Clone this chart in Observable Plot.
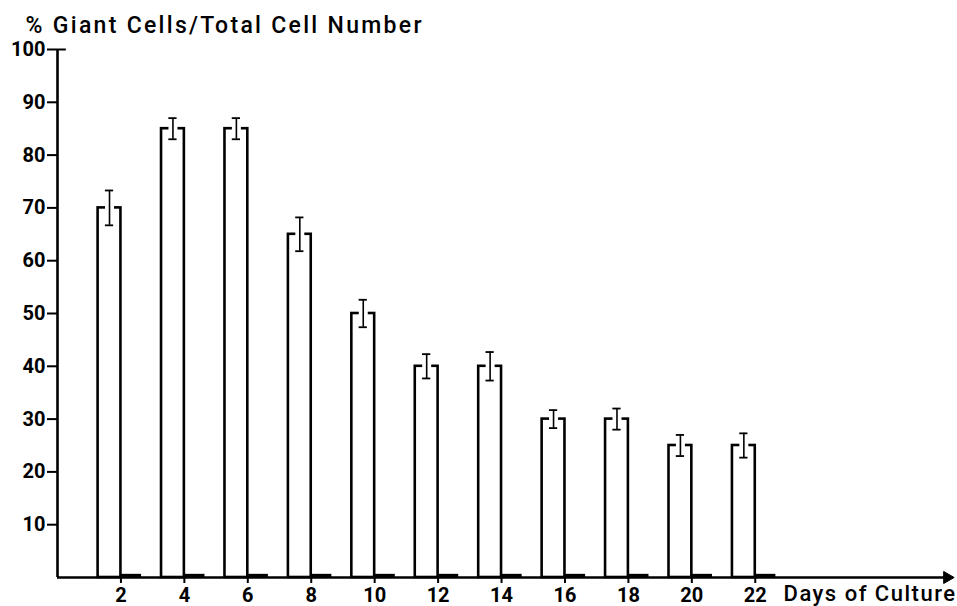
<!DOCTYPE html>
<html>
<head>
<meta charset="utf-8">
<script src="https://cdn.jsdelivr.net/npm/d3@7"></script>
<script src="https://cdn.jsdelivr.net/npm/@observablehq/plot@0.6"></script>
<style>
  html, body { margin: 0; padding: 0; background: #fff; }
</style>
</head>
<body>
<div id="chart"></div>
<script>
// ---- data ----
const days = [2, 4, 6, 8, 10, 12, 14, 16, 18, 20, 22];
const giantPct = [70, 85, 85, 65, 50, 40, 40, 30, 30, 25, 25];
const giantErr = [3.3, 2.0, 2.0, 3.2, 2.6, 2.3, 2.7, 1.7, 2.0, 2.0, 2.3];
const controlPct = [0.6, 0.6, 0.6, 0.6, 0.6, 0.6, 0.6, 0.6, 0.6, 0.6, 0.6];
const yTicks = [10, 20, 30, 40, 50, 60, 70, 80, 90, 100];
const xTicks = [2, 4, 6, 8, 10, 12, 14, 16, 18, 20, 22];
const title = "% Giant Cells/Total Cell Number";
const xTitle = "Days of Culture";

const barW = 0.72;   // bar width in days
const capW = 0.13;   // half cap width in days
const xMax = 28.25;

const rows = days.map((d, i) => ({
  day: d,
  v: giantPct[i],
  e: giantErr[i],
  c: controlPct[i],
  mid: d - barW / 2
}));

const font = "Roboto, 'DejaVu Sans', sans-serif";

const chart = Plot.plot({
  width: 957,
  height: 606,
  marginLeft: 57,
  marginRight: 4,
  marginTop: 49,
  marginBottom: 29,
  x: { domain: [0, xMax] },
  y: { domain: [0, 100] },
  style: { fontFamily: font, fontSize: "20px", fontWeight: "bold", color: "#000", background: "#fff" },
  marks: [
    // main bars (open rectangles)
    Plot.rectY(rows, { x1: d => d.day - barW, x2: "day", y1: 0, y2: "v", fill: "white", stroke: "black", strokeWidth: 2.6 }),
    // small dark control bars
    Plot.rectY(rows, { x1: "day", x2: d => d.day + 0.65, y1: 0, y2: "c", fill: "black" }),
    // white gap around the error stem on the bar top
    Plot.ruleX(rows, { x: "mid", y1: d => d.v - 0.5, y2: d => d.v + 0.5, stroke: "white", strokeWidth: 9 }),
    // error bars
    Plot.ruleX(rows, { x: "mid", y1: d => d.v - d.e, y2: d => d.v + d.e, stroke: "black", strokeWidth: 1.6 }),
    Plot.ruleY(rows, { y: d => d.v + d.e, x1: d => d.mid - capW, x2: d => d.mid + capW, stroke: "black", strokeWidth: 1.8 }),
    Plot.ruleY(rows, { y: d => d.v - d.e, x1: d => d.mid - capW, x2: d => d.mid + capW, stroke: "black", strokeWidth: 1.8 }),
    // y axis line and ticks
    Plot.ruleX([0], { y1: 0, y2: 100, stroke: "black", strokeWidth: 2.6 }),
    Plot.axisY({ ticks: yTicks, tickSize: 10, tickPadding: 2, strokeWidth: 2, label: null, fontSize: 20 }),
    Plot.ruleY([100], { x1: 0, x2: 0.28, stroke: "black", strokeWidth: 2 }),
    // x axis with arrow
    Plot.ruleY([0], { x1: 0, x2: 28.0, stroke: "black", strokeWidth: 2.6 }),
    Plot.dot([xMax - 0.2], { x: d => d, y: 0, symbol: "triangle", rotate: 90, r: 4.5, fill: "black", stroke: "black", strokeWidth: 1 }),
    Plot.axisX({ ticks: xTicks, tickSize: 6, tickPadding: 4, strokeWidth: 2, label: null, fontSize: 20 }),
    // titles
    Plot.text([title], { frameAnchor: "top-left", lineAnchor: "middle", dx: -32, dy: -24, textAnchor: "start", fontSize: 23, fontWeight: "500" }),
    Plot.text([xTitle], { frameAnchor: "bottom-right", lineAnchor: "middle", dx: 3, dy: 16, textAnchor: "end", fontSize: 22, fontWeight: "500" })
  ]
});

// widen the letter spacing of the two titles as in the typeset original
const titles = chart.querySelectorAll('g[aria-label="text"] text');
titles.forEach(t => {
  t.style.letterSpacing = t.textContent === xTitle ? "1.5px" : "2.3px";
});

document.getElementById("chart").appendChild(chart);
</script>
</body>
</html>
